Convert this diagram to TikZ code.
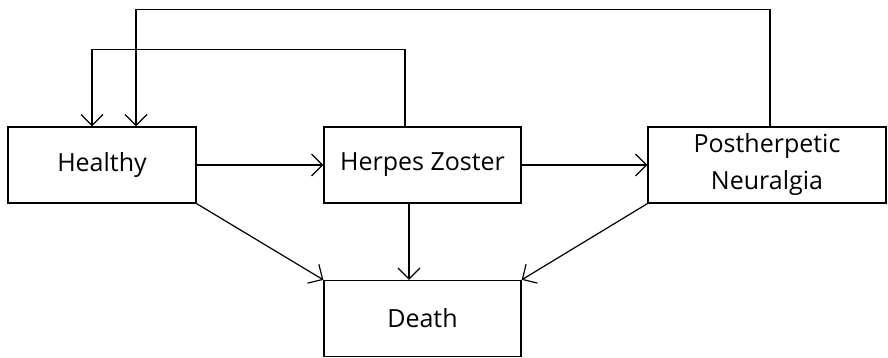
\documentclass[tikz,border=0pt]{standalone}
\usepackage{fontspec}
\setmainfont{Open Sans}
\usepackage{tikz}
\usetikzlibrary{arrows.meta,positioning}

\begin{document}
\begin{tikzpicture}[x=0.5pt, y=-0.5pt, >={Straight Barb[length=5.5pt,width=11pt]},
		font=\fontsize{12.5}{18.5}\selectfont,
		state/.style={draw, line width=0.65pt, minimum width=94pt, minimum height=38pt, inner sep=0pt, align=center},
		link/.style={->, line width=0.6pt}]
		\useasboundingbox (0,0) rectangle (888,358);
		
		\node[state] (healthy) at (102,165) {Healthy};
		\node[state, minimum width=98.5pt] (zoster) at (422.5,165) {Herpes Zoster};
		\node[state, minimum width=119pt] (phn) at (767,165) {Postherpetic\\Neuralgia};
		\node[state, minimum width=98.5pt] (death) at (422.5,318.5) {Death};
		
		\draw[link] (healthy.east) -- (zoster.west);
		\draw[link] (zoster.east) -- (phn.west);
		
		\draw[link] (healthy.south east) -- (death.north west);
		\draw[link] ([xshift=-6.75pt]zoster.south) -- ([xshift=-6.75pt]death.north);
		\draw[link] (phn.south west) -- (death.north east);
		
		% back to healthy
		\draw[link] ([xshift=-8.75pt]zoster.north) -- ++(0,-77) -| ([xshift=-5pt]healthy.north);
		\draw[link] ([xshift=1.5pt]phn.north) -- ++(0,-117) -| ([xshift=17pt]healthy.north);
	\end{tikzpicture}
\end{document}
